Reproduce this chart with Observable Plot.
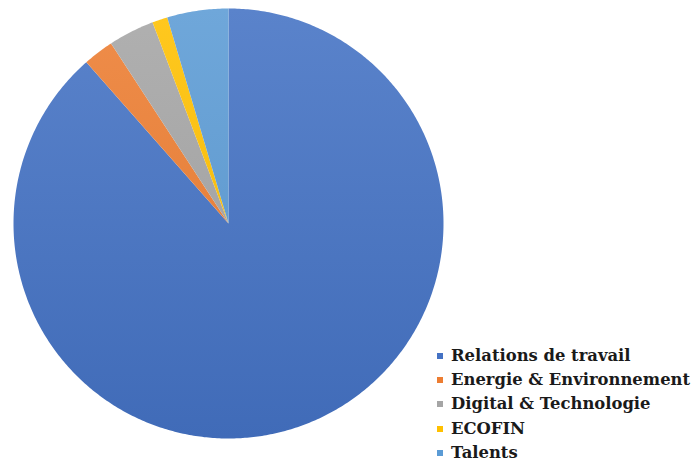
<!DOCTYPE html>
<html>
<head>
<meta charset="utf-8">
<script src="https://cdn.jsdelivr.net/npm/d3@7"></script>
<script src="https://cdn.jsdelivr.net/npm/@observablehq/plot@0.6"></script>
<style>
  html, body { margin: 0; padding: 0; background: #fff; }
  #wrap { position: relative; width: 693px; height: 461px; }
  #legend { position: absolute; left: 437px; top: 344px; font-family: "DejaVu Serif", serif; font-weight: bold; font-size: 16.4px; color: #1a1a1a; }
  .row { height: 24.2px; line-height: 24.2px; white-space: nowrap; display: flex; align-items: center; }
  .sw { width: 6px; height: 6px; margin-right: 8px; display: inline-block; }
</style>
</head>
<body>
<div id="wrap"><div id="chart"></div><div id="legend"></div></div>
<script>
const categories = ["Relations de travail", "Energie & Environnement", "Digital & Technologie", "ECOFIN", "Talents"];
const values = [77, 2, 3, 1, 4];
const colors = ["#4472C4", "#ED7D31", "#A5A5A5", "#FFC000", "#5B9BD5"];

const arcs = d3.pie().sort(null).value(d => d.value)(categories.map((c, i) => ({category: c, value: values[i]})));
const pts = [];
for (const a of arcs) {
  const c = a.data.category;
  pts.push({category: c, x: 0, y: 0});
  const n = Math.max(2, Math.ceil((a.endAngle - a.startAngle) / 0.01));
  for (let k = 0; k <= n; k++) {
    const t = a.startAngle + (a.endAngle - a.startAngle) * k / n;
    pts.push({category: c, x: Math.sin(t), y: Math.cos(t)});
  }
  pts.push({category: c, x: 0, y: 0});
}

const plot = Plot.plot({
  width: 693, height: 461,
  marginLeft: 13, marginRight: 250, marginTop: 8, marginBottom: 23,
  x: {domain: [-1, 1], axis: null},
  y: {domain: [-1, 1], axis: null},
  color: {domain: categories, range: colors},
  marks: [
    Plot.line(pts, {x: "x", y: "y", z: "category", fill: "category", stroke: "none", curve: "linear"})
  ]
});
document.getElementById("chart").appendChild(plot);

// subtle vertical shading like the original (lighter at top, darker at bottom)
const svg = d3.select(plot);
const defs = svg.insert("defs", ":first-child");
colors.forEach((col, i) => {
  const g = defs.append("linearGradient").attr("id", "grad" + i)
    .attr("gradientUnits", "userSpaceOnUse").attr("x1", 0).attr("x2", 0).attr("y1", 8).attr("y2", 438);
  g.append("stop").attr("offset", "0%").attr("stop-color", d3.interpolateRgb(col, "#ffffff")(0.12));
  g.append("stop").attr("offset", "100%").attr("stop-color", d3.interpolateRgb(col, "#000000")(0.06));
});
svg.selectAll("path").each(function() {
  const f = (this.getAttribute("fill") || "").toUpperCase();
  const i = colors.findIndex(c => d3.color(c).formatHex().toUpperCase() === d3.color(f) ?.formatHex().toUpperCase());
  if (i >= 0) this.setAttribute("fill", `url(#grad${i})`);
});

const legend = document.getElementById("legend");
categories.forEach((c, i) => {
  const row = document.createElement("div");
  row.className = "row";
  row.innerHTML = `<span class="sw" style="background:${colors[i]}"></span><span>${c}</span>`;
  legend.appendChild(row);
});
</script>
</body>
</html>
